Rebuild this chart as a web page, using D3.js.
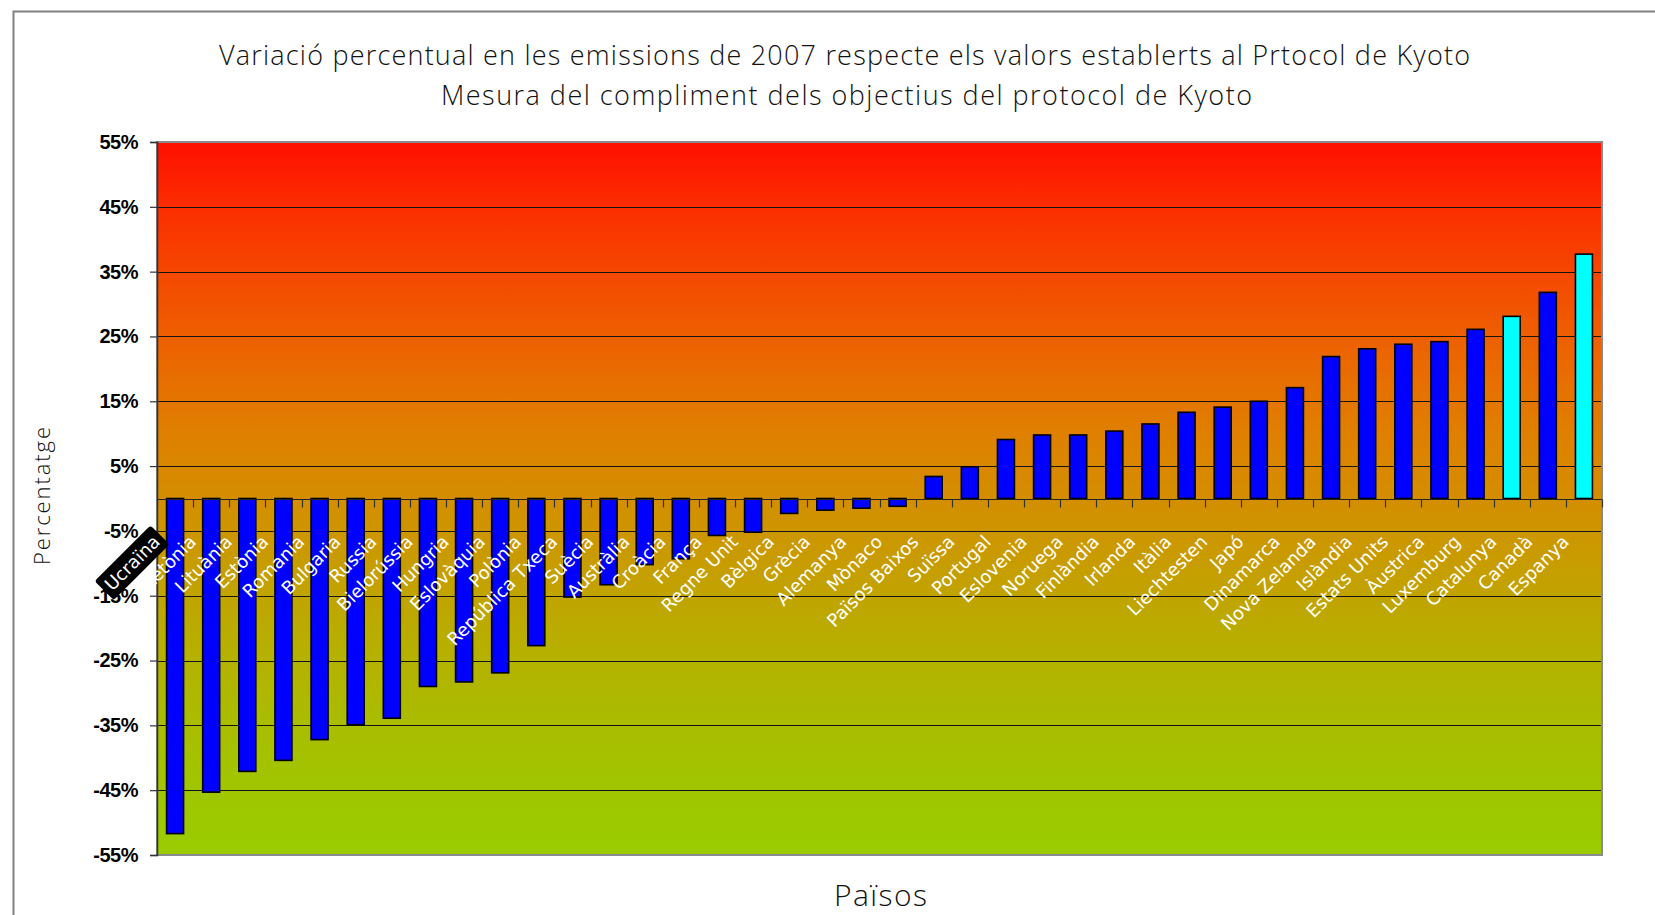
<!DOCTYPE html>
<html>
<head>
<meta charset="utf-8">
<script src="https://cdn.jsdelivr.net/npm/d3@7/dist/d3.min.js"></script>
<style>
  html, body { margin: 0; padding: 0; background: #ffffff; }
  svg { display: block; }
</style>
</head>
<body>
<svg id="chart" width="1655" height="915"></svg>
<script>
// ---------------- DATA ----------------
const categories = [
  "Ucraïna", "Letònia", "Lituània", "Estònia", "Romania", "Bulgaria", "Russia",
  "Bielorússia", "Hungria", "Eslovàquia", "Polònia", "República Txeca", "Suècia",
  "Austràlia", "Croàcia", "França", "Regne Unit", "Bèlgica", "Grècia", "Alemanya",
  "Mònaco", "Països Baixos", "Suïssa", "Portugal", "Eslovenia", "Noruega",
  "Finlàndia", "Irlanda", "Itàlia", "Liechtesten", "Japó", "Dinamarca",
  "Nova Zelanda", "Islàndia", "Estats Units", "Àustrica", "Luxemburg",
  "Catalunya", "Canadà", "Espanya"
];
const values = [
  -51.7, -45.3, -42.1, -40.4, -37.2, -34.9, -33.9,
  -29.0, -28.3, -26.9, -22.7, -15.2, -13.3,
  -10.2, -9.3, -5.7, -5.2, -2.3, -1.8, -1.5,
  -1.2, 3.4, 4.9, 9.1, 9.8, 9.8,
  10.4, 11.5, 13.3, 14.1, 15.0, 17.1,
  21.9, 23.1, 23.8, 24.2, 26.1,
  28.1, 31.8, 37.7
];
const highlighted = ["Catalunya", "Espanya"];
const selectedLabel = ["Ucraïna"];
const yTicks = [-55, -45, -35, -25, -15, -5, 5, 15, 25, 35, 45, 55];
const titleLines = [
  "Variació percentual en les emissions de 2007 respecte els valors establerts al Prtocol de Kyoto",
  "Mesura del compliment dels objectius del protocol de Kyoto"
];
const yAxisTitle = "Percentatge";
const xAxisTitle = "Països";

// ---------------- LAYOUT ----------------
const svg = d3.select("#chart");
const P = { left: 157, right: 1602, top: 142, bottom: 855 };
const titleFont = "'Open Sans', 'DejaVu Sans', sans-serif";
const labelFont = "'DejaVu Sans', sans-serif";

const y = d3.scaleLinear().domain([-55, 55]).range([P.bottom, P.top]);
const x = d3.scaleBand().domain(categories).range([P.left, P.right])
  .paddingInner(0.53).paddingOuter(0.265);

// background
svg.append("rect").attr("width", 1655).attr("height", 915).attr("fill", "#fff");

// outer chart frame (top and left edges visible)
svg.append("path")
  .attr("d", "M13.5,915 V11.5 H1655")
  .attr("fill", "none").attr("stroke", "#808080").attr("stroke-width", 2);

// gradient
const defs = svg.append("defs");
const grad = defs.append("linearGradient").attr("id", "bg")
  .attr("x1", 0).attr("y1", 0).attr("x2", 0).attr("y2", 1);
[
  [0.00, "#ff1000"], [0.10, "#fb3000"], [0.20, "#f44c00"], [0.30, "#eb6600"],
  [0.40, "#e07e00"], [0.50, "#d48e00"], [0.60, "#c69e00"], [0.70, "#b8ae00"],
  [0.80, "#abbb00"], [0.90, "#a1c500"], [1.00, "#99cc00"]
].forEach(s => grad.append("stop").attr("offset", s[0]).attr("stop-color", s[1]));

// plot area
svg.append("rect")
  .attr("x", P.left).attr("y", P.top)
  .attr("width", P.right - P.left).attr("height", P.bottom - P.top)
  .attr("fill", "url(#bg)");

// gridlines
svg.append("g").selectAll("line")
  .data(yTicks.filter(t => t !== 55 && t !== -55))
  .join("line")
  .attr("x1", P.left).attr("x2", P.right)
  .attr("y1", d => Math.round(y(d)) + 0.5).attr("y2", d => Math.round(y(d)) + 0.5)
  .attr("stroke", "#141414").attr("stroke-width", 1.2);

// plot border
svg.append("rect")
  .attr("x", P.left).attr("y", P.top)
  .attr("width", P.right - P.left).attr("height", P.bottom - P.top)
  .attr("fill", "none").attr("stroke", "#8a8a8a").attr("stroke-width", 2);

// y axis
const yAxis = svg.append("g")
  .attr("transform", `translate(${P.left},0)`)
  .call(d3.axisLeft(y).tickValues(yTicks).tickFormat(d => d + "%").tickSize(7).tickPadding(12));
yAxis.select(".domain").attr("stroke", "#333").attr("stroke-width", 1.5);
yAxis.selectAll(".tick line").attr("stroke", "#333").attr("stroke-width", 1.2);
yAxis.selectAll(".tick text")
  .attr("font-family", "'Liberation Sans', Arial, sans-serif")
  .attr("font-weight", "bold").attr("font-size", 20)
  .attr("letter-spacing", -0.5)
  .attr("fill", "#000");

// bars
svg.append("g").selectAll("rect")
  .data(categories.map((c, i) => ({ c, v: values[i] })))
  .join("rect")
  .attr("x", d => x(d.c))
  .attr("width", x.bandwidth())
  .attr("y", d => y(Math.max(0, d.v)))
  .attr("height", d => Math.abs(y(d.v) - y(0)))
  .attr("fill", d => highlighted.includes(d.c) ? "#00ffff" : "#0000ff")
  .attr("stroke", "#000").attr("stroke-width", 1.6);

// category axis at zero
const y0 = Math.round(y(0)) + 0.5;
svg.append("line")
  .attr("x1", P.left).attr("x2", P.right).attr("y1", y0).attr("y2", y0)
  .attr("stroke", "#222").attr("stroke-width", 1.2);
const boundaries = categories.map(c => x(c) + x.bandwidth() / 2 - x.step() / 2)
  .concat([x(categories[categories.length - 1]) + x.bandwidth() / 2 + x.step() / 2]);
svg.append("g").selectAll("line")
  .data(boundaries)
  .join("line")
  .attr("x1", d => Math.round(d) + 0.5).attr("x2", d => Math.round(d) + 0.5)
  .attr("y1", y0).attr("y2", y0 + 8)
  .attr("stroke", "#333").attr("stroke-width", 1.2);

// category labels
const labels = svg.append("g").selectAll("g")
  .data(categories)
  .join("g")
  .attr("transform", c => `translate(${x(c) + x.bandwidth() / 2 - 14},543) rotate(-45)`);
labels.each(function (c) {
  const g = d3.select(this);
  const t = g.append("text")
    .attr("text-anchor", "end")
    .attr("font-family", labelFont)
    .attr("font-size", 18)
    .attr("fill", "#ffffff")
    .text(c);
  if (selectedLabel.includes(c)) {
    const bb = t.node().getBBox();
    g.insert("rect", "text")
      .attr("x", bb.x - 5).attr("y", bb.y - 3)
      .attr("width", bb.width + 10).attr("height", bb.height + 6)
      .attr("rx", 3)
      .attr("fill", "#000");
  }
});

// helper to fit text to a width
function fitText(sel, target, size) {
  sel.attr("font-size", size);
  const w = sel.node().getComputedTextLength();
  if (w > target) sel.attr("font-size", size * target / w);
  sel.attr("textLength", target).attr("lengthAdjust", "spacing");
}

// titles
const t1 = svg.append("text")
  .attr("x", 844.5).attr("y", 65).attr("text-anchor", "middle")
  .attr("font-family", titleFont).attr("font-weight", 300)
  .attr("fill", "#111").text(titleLines[0]);
fitText(t1, 1251, 27);
const t2 = svg.append("text")
  .attr("x", 846.5).attr("y", 105).attr("text-anchor", "middle")
  .attr("font-family", titleFont).attr("font-weight", 300)
  .attr("fill", "#111").text(titleLines[1]);
fitText(t2, 811, 27);

// axis titles
const yt = svg.append("text")
  .attr("transform", "translate(50,496) rotate(-90)")
  .attr("text-anchor", "middle")
  .attr("font-family", titleFont).attr("font-weight", 300)
  .attr("fill", "#111").text(yAxisTitle);
fitText(yt, 138, 22);

const xt = svg.append("text")
  .attr("x", 880.5).attr("y", 906).attr("text-anchor", "middle")
  .attr("font-family", titleFont).attr("font-weight", 300)
  .attr("fill", "#111").text(xAxisTitle);
fitText(xt, 93, 30);
</script>
</body>
</html>
